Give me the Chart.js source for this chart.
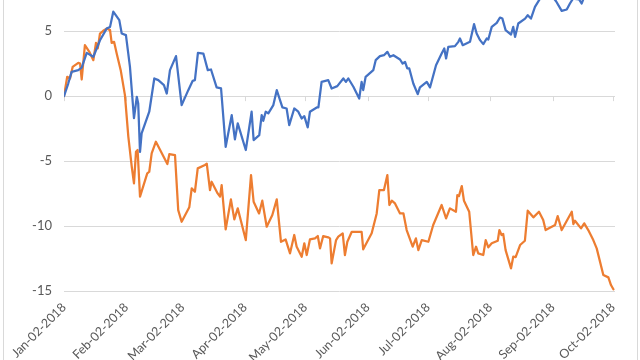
<!DOCTYPE html>
<html>
<head>
<meta charset="utf-8">
<script src="https://cdn.jsdelivr.net/npm/chart.js@4/dist/chart.umd.min.js"></script>
<style>
  body { margin: 0; background: #fff; }
  #wrap { position: relative; width: 640px; height: 360px; }
  #frame { position: absolute; left: 3px; top: 0; width: 633px; height: 360px;
           border-left: 1px solid #d9d9d9; border-right: 1px solid #d9d9d9; pointer-events: none; }
</style>
</head>
<body>
<div id="wrap">
  <canvas id="chart"></canvas>
  <div id="frame"></div>
</div>
<script>
// days counted from Jan-02-2018
const tickDays = [0, 31, 59, 90, 120, 151, 181, 212, 243, 273]
const tickLabels = ['Jan-02-2018', 'Feb-02-2018', 'Mar-02-2018', 'Apr-02-2018', 'May-02-2018',
  'Jun-02-2018', 'Jul-02-2018', 'Aug-02-2018', 'Sep-02-2018', 'Oct-02-2018']

const blueDays = [0, 2.1, 3.8, 7.1, 8.8, 11.3, 14.6, 17.9, 21.2, 22.9, 24.5, 27.5, 28.7, 30.8, 32.8,
  34.8, 36.2, 36.9, 37.8, 38.6, 42.4, 44.9, 46.9, 49.7, 51.1, 52.7, 55.7, 58.5, 61.8, 64.0, 65.1,
  66.6, 69.3, 71.5, 73.1, 75.9, 78.1, 80.4, 83.4, 85.0, 86.4, 90.4, 93.3, 94.3, 97.1, 98.3, 99.1,
  100.3, 101.6, 104.1, 105.8, 108.6, 110.7, 112.0, 114.5, 116.5, 118.2, 119.5, 121.2, 122.3, 125.7,
  126.5, 128.1, 131.4, 133.1, 135.9, 138.9, 140.2, 141.4, 143.9, 146.8, 148.0, 148.8, 150.0, 153.8,
  155.0, 157.1, 159.1, 160.8, 162.1, 163.8, 167.1, 168.4, 169.6, 170.7, 171.7, 173.7, 175.9, 177.0,
  180.4, 182.0, 185.0, 187.8, 189.1, 190.0, 191.1, 194.4, 196.1, 196.9, 198.3, 201.9, 203.9, 205.2,
  206.9, 208.5, 210.2, 211.0, 212.7, 215.2, 216.8, 218.0, 219.6, 222.3, 223.4, 224.3, 225.9, 229.3,
  230.6, 232.2, 234.2, 236.7, 240.2, 242.7, 244.7, 247.5, 250.0, 251.6, 253.1, 256.1, 257.4, 258.6,
  261.6, 264.5, 267.5, 270.5, 273.0]
const blueValues = [0, 0.97, 1.87, 2.0, 2.2, 3.33, 3.03, 4.3, 5.2, 5.33, 6.5, 5.85, 4.82, 4.7, 2.25,
  -1.7, -0.05, -0.56, -4.3, -2.87, -1.2, 1.36, 1.23, 0.85, 0.2, 2.0, 3.08, -0.69, 0.46, 1.18, 1.23,
  3.33, 3.28, 2.0, 2.05, 0.67, 0.59, -3.9, -1.46, -3.33, -2.1, -4.15, -1.2, -3.38, -3.0, -1.46, -1.9,
  -1.2, -1.33, -0.69, 0.46, -0.87, -0.95, -2.23, -0.95, -1.2, -1.72, -1.54, -2.41, -1.2, -0.87,
  -0.87, 1.1, 1.23, 0.59, 0.77, 1.36, 1.1, 1.36, 0.72, -0.18, 1.1, 0.46, 1.49, 2.0,
  2.77, 3.08, 3.15, 3.41, 3.03, 3.15, 2.82, 2.51, 2.64, 2.13, 2.13, 0.97, 0.15, 0.67,
  1.1, 0.67, 2.38, 3.28, 3.67, 2.9, 3.79, 3.85, 4.18, 4.44, 3.92, 4.18, 5.54, 4.82,
  4.31, 4.0, 4.44, 4.36, 5.33, 5.64, 6.05, 5.97, 5.08, 4.74, 5.33, 4.56, 5.59, 5.97,
  6.23, 5.97, 6.87, 7.5, 7.9, 7.7, 7.3, 6.56, 6.67, 7.13, 7.5, 7.45, 7.13, 7.6,
  8.0, 8.3, 8.1, 8.6, 8.8]

const orangeDays = [0, 1.6, 3.0, 4.3, 7.1, 8.0, 8.8, 10.4, 12.6, 14.6, 15.9, 16.8, 17.9, 19.5, 21.2,
  22.9, 23.7, 24.9, 26.2, 28.2, 30.3, 32.0, 33.7, 34.8, 35.8, 36.6, 37.8, 41.4, 42.4, 43.6, 45.7,
  51.4, 52.4, 55.2, 56.8, 58.5, 62.3, 63.5, 65.1, 66.5, 70.1, 71.0, 72.6, 73.4, 76.4, 77.6, 78.4,
  80.4, 83.0, 84.7, 86.4, 90.4, 93.0, 94.3, 97.0, 98.6, 100.8, 103.6, 105.8, 107.9, 110.2, 112.4,
  114.5, 115.7, 118.2, 119.5, 120.7, 122.3, 124.8, 126.2, 127.3, 128.9, 131.4, 132.3, 133.1, 135.3,
  136.4, 138.6, 139.7, 140.9, 143.1, 148.0, 148.8, 153.0, 155.5, 156.8, 159.1, 160.8, 161.8, 163.0,
  164.6, 167.1, 168.8, 170.4, 173.4, 175.0, 176.2, 177.9, 181.2, 183.6, 187.8, 190.0, 191.9, 194.9,
  195.6, 196.4, 197.8, 198.9, 201.5, 203.5, 204.9, 206.0, 208.5, 209.7, 211.0, 212.7, 215.7, 216.5,
  217.6, 218.4, 219.6, 222.3, 223.4, 224.6, 226.8, 229.2, 230.6, 233.4, 236.2, 238.3, 239.5, 244.2,
  245.5, 247.5, 252.5, 253.3, 254.1, 257.1, 258.7, 260.7, 263.2, 264.9, 268.2, 270.7, 272.0, 273.2]
const orangeValues = [0, 1.49, 1.36, 2.25, 2.56, 2.5, 1.28, 3.92, 3.41, 2.77, 4.1, 3.67, 4.82, 5.03, 5.2,
  5.08, 4.1, 4.18, 3.28, 2.0, 0.08, -3.13, -5.44, -6.72, -4.28, -4.15, -7.74, -5.95, -5.82, -4.41, -3.51,
  -5.23, -4.46, -4.54, -8.77, -9.67, -8.56, -7.1, -7.36, -5.56, -5.3, -5.2, -7.23, -6.59, -7.49, -7.74, -6.85,
  -10.26, -7.95, -9.49, -8.64, -11.08, -6.08, -8.13, -9.03, -8.05, -10.05, -9.15, -7.95, -11.21, -11.03, -12.1,
  -10.69, -11.59, -12.36, -11.33, -12.23, -11.03, -10.95, -10.77, -11.72, -10.77, -10.87, -10.95, -12.87, -11.08,
  -10.82, -10.56, -12.23, -11.21, -10.44, -10.44, -11.79, -10.56, -9.03, -7.23, -7.23, -6.08, -8.38, -8.05,
  -8.26, -9.03, -9.03, -10.31, -11.59, -10.95, -11.85, -11.08, -11.21, -9.92, -8.38, -9.41, -8.64, -8.9,
  -7.62, -7.7, -6.92, -8.05, -8.9, -12.23, -11.59, -12.1, -12.23, -11.08, -11.64, -11.33, -11.13, -10.31,
  -10.69, -10.6, -11.85, -13.26, -12.36, -12.4, -11.46, -11.13, -8.82, -9.33, -8.9, -9.54, -10.31, -9.92,
  -9.23, -10.31, -8.9, -9.85, -9.59, -10.18, -9.79, -10.31, -11.08, -11.72, -13.77, -13.95, -14.54, -14.87]

const yTicks = [5, 0, -5, -10, -15]

const toPoints = (xs, ys) => xs.map((x, i) => ({ x: x, y: ys[i] }))

// small tick marks hanging from the zero line, like the excel category axis
const zeroTicks = {
  id: 'zeroTicks',
  beforeDatasetsDraw(chart) {
    const { ctx, scales: { x, y } } = chart
    const y0 = y.getPixelForValue(0)
    ctx.save()
    ctx.strokeStyle = '#d9d9d9'
    ctx.lineWidth = 1
    x.ticks.forEach(t => {
      const px = Math.round(x.getPixelForValue(t.value)) + 0.5
      ctx.beginPath()
      ctx.moveTo(px, y0)
      ctx.lineTo(px, y0 + 5)
      ctx.stroke()
    })
    ctx.restore()
  }
}

const lineStyle = {
  borderWidth: 2.25,
  pointRadius: 0,
  tension: 0,
  borderJoinStyle: 'round',
  borderCapStyle: 'round'
}

new Chart(document.getElementById('chart'), {
  type: 'line',
  plugins: [zeroTicks],
  data: {
    datasets: [
      { data: toPoints(blueDays, blueValues), borderColor: '#4472C4', ...lineStyle },
      { data: toPoints(orangeDays, orangeValues), borderColor: '#ED7D31', ...lineStyle }
    ]
  },
  options: {
    responsive: true,
    maintainAspectRatio: false,
    animation: false,
    layout: { padding: { left: 0, right: 25, top: 0, bottom: 0 } },
    plugins: { legend: { display: false }, tooltip: { enabled: false } },
    scales: {
      x: {
        type: 'linear',
        min: 0,
        max: 274,
        afterBuildTicks: s => { s.ticks = tickDays.map(v => ({ value: v })) },
        afterFit: s => { s.height = 69; s.paddingLeft = 0; s.paddingRight = 0 },
        grid: { display: false, drawTicks: false },
        border: { display: false },
        ticks: {
          autoSkip: false,
          minRotation: 45,
          maxRotation: 45,
          padding: 9,
          color: '#595959',
          font: { family: 'Lato', size: 12.5 },
          callback: (v, i) => tickLabels[i]
        }
      },
      y: {
        min: -15,
        max: 7.4,
        afterBuildTicks: s => { s.ticks = yTicks.map(v => ({ value: v })) },
        afterFit: s => { s.width = 64; s.paddingTop = 0; s.paddingBottom = 0 },
        grid: { color: '#d9d9d9', drawTicks: false },
        border: { display: false },
        ticks: {
          padding: 12,
          color: '#595959',
          font: { family: 'Lato', size: 13 }
        }
      }
    }
  }
})
</script>
</body>
</html>
